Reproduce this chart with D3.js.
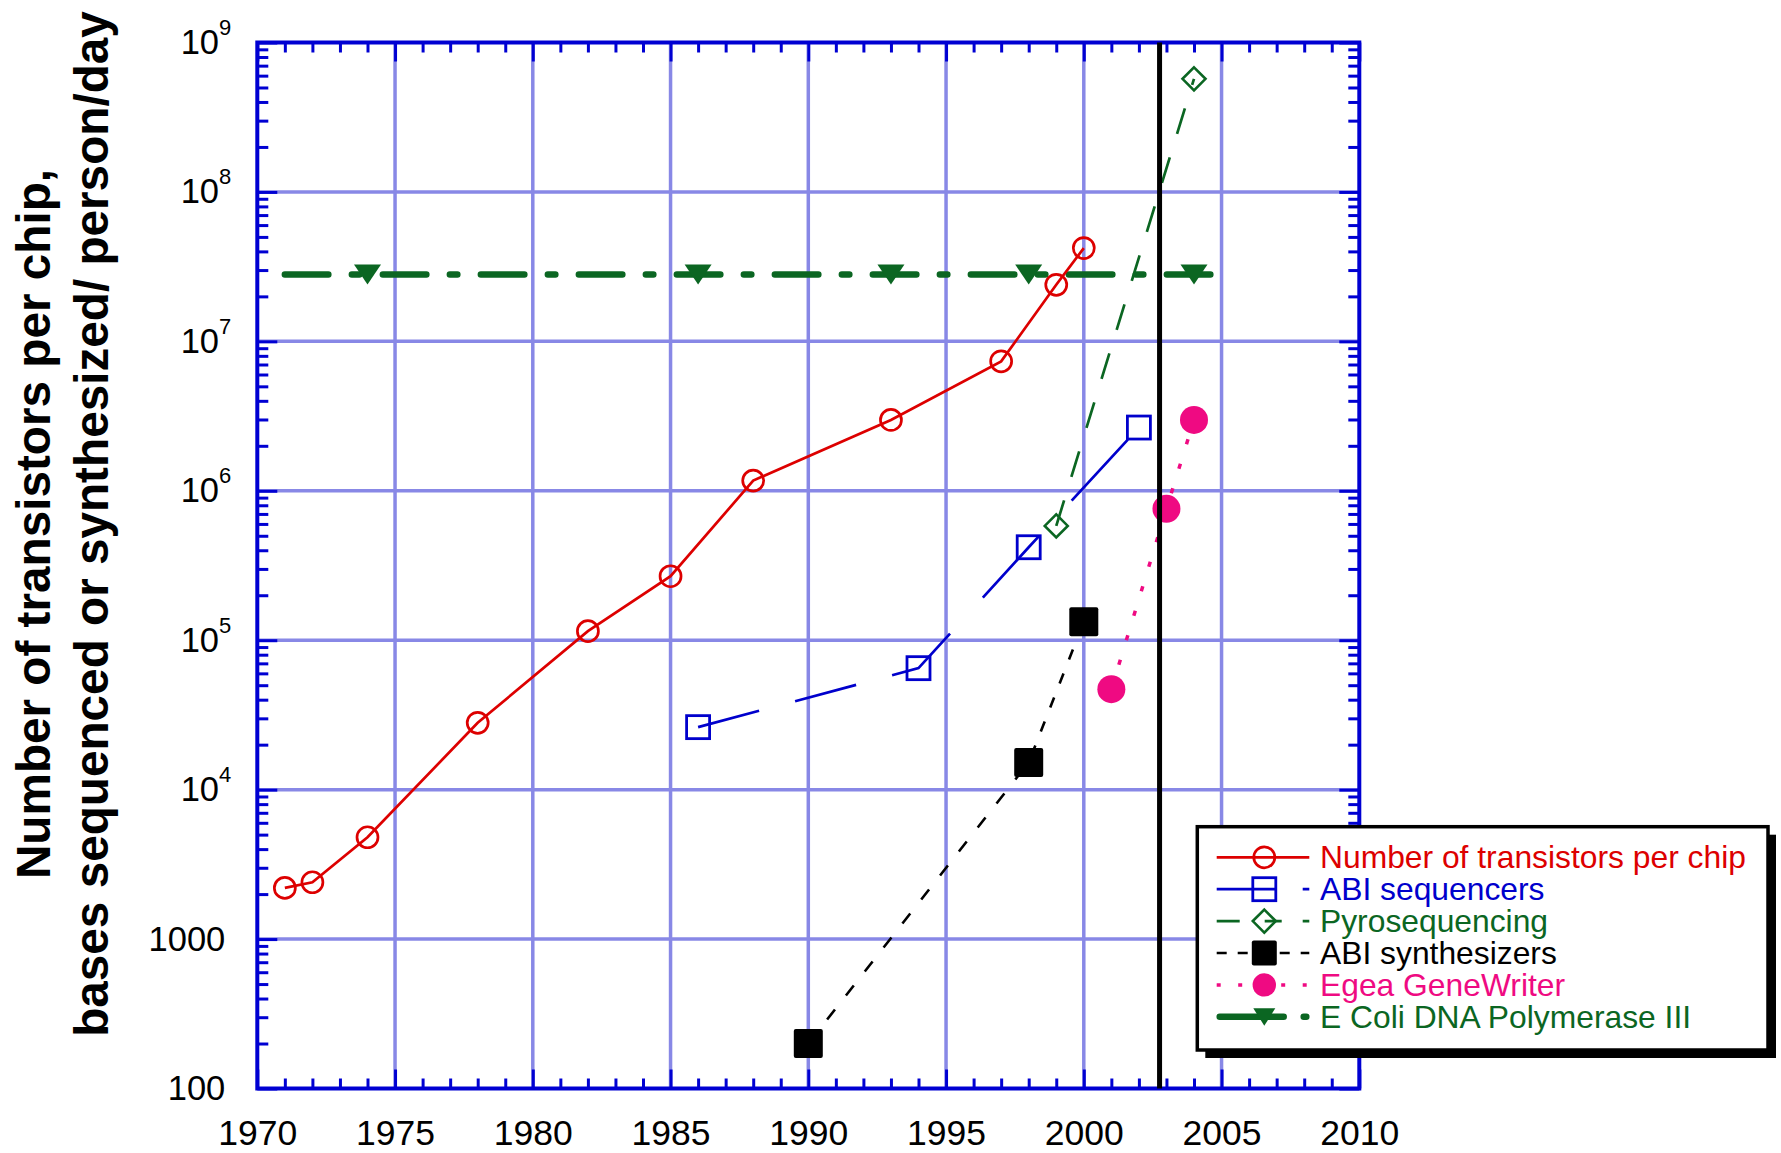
<!DOCTYPE html>
<html>
<head>
<meta charset="utf-8">
<script src="https://cdn.jsdelivr.net/npm/d3@7"></script>
<style>
  body { margin: 0; background: white; }
  text { font-family: "Liberation Sans", Arial, sans-serif; }
</style>
</head>
<body>
<div id="chart"></div>
<script>
// data
const chipYears = [1971, 1972, 1974, 1978, 1982, 1985, 1988, 1993, 1997, 1999, 2000];
const chipTransistors = [2200, 2400, 4800, 28000, 115000, 268000, 1170000, 2980000, 7350000, 23900000, 42100000];

const abiSeqYears = [1986, 1994, 1998, 2002];
const abiSeqBases = [26200, 65000, 419000, 2650000];

const pyroYears = [1999, 2004];
const pyroBases = [582000, 571000000];

const abiSynYears = [1990, 1998, 2000];
const abiSynBases = [200, 15200, 133000];

const egeaYears = [2001, 2003, 2004];
const egeaBases = [47000, 757000, 2980000];

const ecoliLineYears = [1971, 2005];
const ecoliMarkerYears = [1974, 1986, 1993, 1998, 2004];
const ecoliRate = 2.8e7;

const cutoffYear = 2002.75;

const xMajor = [1970, 1975, 1980, 1985, 1990, 1995, 2000, 2005, 2010];
const xMinor = d3.range(1971, 2010).filter(v => v % 5 !== 0);
const yMajor = [1e2, 1e3, 1e4, 1e5, 1e6, 1e7, 1e8, 1e9];
const yMinor = d3.range(2, 9).flatMap(e => d3.range(2, 10).map(m => m * Math.pow(10, e)));

const legendLabels = ["Number of transistors per chip", "ABI sequencers", "Pyrosequencing",
                      "ABI synthesizers", "Egea GeneWriter", "E Coli DNA Polymerase III"];

const width = 1781, height = 1153;
const plot = {left: 257.3, right: 1359.3, top: 42.5, bottom: 1088.5};
const axisBlue = "#0000d2";
const gridBlue = "#8888e6";
const red = "#dd0000", blue = "#0000cc", green = "#0b6622", pink = "#ef0a82";

const svg = d3.select("#chart").append("svg")
  .attr("width", width)
  .attr("height", height)
  .style("background", "white");

const x = d3.scaleLinear().domain([1970, 2010]).range([plot.left, plot.right]);
const y = d3.scaleLog().domain([100, 1e9]).range([plot.bottom, plot.top]);

// dashes measured along the dominant axis, the way the original plot program drew them
function chebDash(pts, pattern) {
  let d = "", k = 0, left = pattern[0], pen = false;
  for (let i = 1; i < pts.length; i++) {
    const [x0, y0] = pts[i - 1], [x1, y1] = pts[i];
    const len = Math.max(Math.abs(x1 - x0), Math.abs(y1 - y0));
    let t = 0;
    while (t < len - 1e-6) {
      const step = Math.min(left, len - t);
      const a = t / len, b = (t + step) / len;
      if (k % 2 === 0) {
        if (!pen) { d += `M${x0 + (x1 - x0) * a},${y0 + (y1 - y0) * a}`; pen = true; }
        d += `L${x0 + (x1 - x0) * b},${y0 + (y1 - y0) * b}`;
      }
      t += step; left -= step;
      if (left <= 1e-6) {
        k = (k + 1) % pattern.length;
        left = pattern[k];
        if (k % 2 === 1) pen = false;
      }
    }
  }
  return d;
}

// grid
svg.append("g").selectAll("line").data(xMajor.slice(1, -1)).join("line")
  .attr("x1", d => x(d)).attr("x2", d => x(d))
  .attr("y1", plot.top).attr("y2", plot.bottom)
  .attr("stroke", gridBlue).attr("stroke-width", 3.5);
svg.append("g").selectAll("line").data(yMajor.slice(1, -1)).join("line")
  .attr("y1", d => y(d)).attr("y2", d => y(d))
  .attr("x1", plot.left).attr("x2", plot.right)
  .attr("stroke", gridBlue).attr("stroke-width", 3.5);

// axes with inward ticks
function tickAxis(axis, pos, values, size) {
  const g = svg.append("g")
    .attr("transform", pos)
    .style("color", axisBlue)
    .call(axis.tickValues(values).tickSize(size).tickFormat(""));
  g.select(".domain").remove();
  g.selectAll(".tick line").attr("stroke-width", 3);
  return g;
}
tickAxis(d3.axisBottom(x), `translate(0,${plot.bottom})`, xMinor, -10);
tickAxis(d3.axisBottom(x), `translate(0,${plot.bottom})`, xMajor, -19);
tickAxis(d3.axisTop(x), `translate(0,${plot.top})`, xMinor, -10);
tickAxis(d3.axisTop(x), `translate(0,${plot.top})`, xMajor, -19);
tickAxis(d3.axisLeft(y), `translate(${plot.left},0)`, yMinor, -11);
tickAxis(d3.axisLeft(y), `translate(${plot.left},0)`, yMajor, -20);
tickAxis(d3.axisRight(y), `translate(${plot.right},0)`, yMinor, -11);
tickAxis(d3.axisRight(y), `translate(${plot.right},0)`, yMajor, -20);

svg.append("rect")
  .attr("x", plot.left).attr("y", plot.top)
  .attr("width", plot.right - plot.left).attr("height", plot.bottom - plot.top)
  .attr("fill", "none").attr("stroke", axisBlue).attr("stroke-width", 4);

// tick labels
const xLab = svg.append("g")
  .attr("transform", `translate(0,${plot.bottom})`)
  .call(d3.axisBottom(x).tickValues(xMajor).tickSize(0).tickPadding(31).tickFormat(d3.format("d")));
xLab.select(".domain").remove();
xLab.selectAll("text").attr("fill", "black").style("font-size", "35.5px")
  .style("font-family", "'Liberation Sans', Arial, sans-serif");

const yLab = svg.append("g")
  .attr("transform", `translate(${plot.left},0)`)
  .call(d3.axisLeft(y).tickValues(yMajor).tickSize(0).tickPadding(26).tickFormat(""));
yLab.select(".domain").remove();
yLab.selectAll("text")
  .attr("fill", "black")
  .style("font-size", "34.5px")
  .style("font-family", "'Liberation Sans', Arial, sans-serif")
  .each(function(d) {
    const t = d3.select(this);
    const e = Math.round(Math.log10(d));
    if (e < 4) {
      t.attr("x", -32).text(String(d));
    } else {
      t.append("tspan").text("10");
      t.append("tspan").attr("dy", -19).style("font-size", "22px").text(e);
    }
  });

// axis title
const titleLines = ["Number of transistors per chip,", "bases sequenced or synthesized/ person/day"];
svg.append("g").selectAll("text").data(titleLines).join("text")
  .attr("transform", (d, i) => `translate(${[50, 108][i]},524) rotate(-90)`)
  .attr("text-anchor", "middle")
  .style("font-size", "47.7px")
  .style("font-weight", "bold")
  .text(d => d);

const pts = (xs, ys) => xs.map((v, i) => [x(v), y(ys[i])]);
const line = d3.line();

// E. coli polymerase
svg.append("path")
  .attr("d", chebDash(ecoliLineYears.map(v => [x(v), y(ecoliRate)]), [43.5, 23.5, 7.5, 23.5]))
  .attr("fill", "none").attr("stroke", green).attr("stroke-width", 6.5).attr("stroke-linecap", "round");
svg.append("g").selectAll("path").data(ecoliMarkerYears).join("path")
  .attr("transform", d => `translate(${x(d)},${y(ecoliRate)})`)
  .attr("d", "M-13.5,-10L13.5,-10L0,10Z")
  .attr("fill", green);

// transistors per chip
svg.append("path")
  .attr("d", line(pts(chipYears, chipTransistors)))
  .attr("fill", "none").attr("stroke", red).attr("stroke-width", 2.7);
svg.append("g").selectAll("circle").data(chipYears).join("circle")
  .attr("cx", d => x(d)).attr("cy", (d, i) => y(chipTransistors[i]))
  .attr("r", 10.5).attr("fill", "none").attr("stroke", red).attr("stroke-width", 2.7);

// ABI sequencers
svg.append("path")
  .attr("d", chebDash(pts(abiSeqYears, abiSeqBases), [61, 36]))
  .attr("fill", "none").attr("stroke", blue).attr("stroke-width", 2.7);
svg.append("g").selectAll("rect").data(abiSeqYears).join("rect")
  .attr("x", d => x(d) - 11.5).attr("y", (d, i) => y(abiSeqBases[i]) - 11.5)
  .attr("width", 23).attr("height", 23)
  .attr("fill", "none").attr("stroke", blue).attr("stroke-width", 2.8);

// pyrosequencing
svg.append("path")
  .attr("d", chebDash(pts(pyroYears, pyroBases), [25.5, 23.5]))
  .attr("fill", "none").attr("stroke", green).attr("stroke-width", 2.7);
svg.append("g").selectAll("path").data(pyroYears).join("path")
  .attr("transform", (d, i) => `translate(${x(d)},${y(pyroBases[i])})`)
  .attr("d", "M0,-11.5L11.5,0L0,11.5L-11.5,0Z")
  .attr("fill", "none").attr("stroke", green).attr("stroke-width", 2.6);

// ABI synthesizers
svg.append("path")
  .attr("d", chebDash(pts(abiSynYears, abiSynBases), [10, 14]))
  .attr("fill", "none").attr("stroke", "black").attr("stroke-width", 2.6);
svg.append("g").selectAll("rect").data(abiSynYears).join("rect")
  .attr("x", d => x(d) - 14.5).attr("y", (d, i) => y(abiSynBases[i]) - 14.5)
  .attr("width", 29).attr("height", 29).attr("rx", 2)
  .attr("fill", "black");

// Egea GeneWriter
svg.append("path")
  .attr("d", chebDash(pts(egeaYears, egeaBases), [5, 19.5]))
  .attr("fill", "none").attr("stroke", pink).attr("stroke-width", 3.5);
svg.append("g").selectAll("circle").data(egeaYears).join("circle")
  .attr("cx", d => x(d)).attr("cy", (d, i) => y(egeaBases[i]))
  .attr("r", 14).attr("fill", pink);

// vertical marker line
svg.append("line")
  .attr("x1", x(cutoffYear)).attr("x2", x(cutoffYear))
  .attr("y1", plot.top).attr("y2", plot.bottom)
  .attr("stroke", "black").attr("stroke-width", 5);

// legend
const lg = {x: 1197.3, y: 826.7, w: 570.7, h: 223.3, row0: 857.3, step: 31.9, s0: 1216.7, s1: 1309.3, mx: 1264.3, tx: 1320};
svg.append("rect")
  .attr("x", lg.x + 8).attr("y", lg.y + 8).attr("width", lg.w).attr("height", lg.h)
  .attr("fill", "black");
svg.append("rect")
  .attr("x", lg.x).attr("y", lg.y).attr("width", lg.w).attr("height", lg.h)
  .attr("fill", "white").attr("stroke", "black").attr("stroke-width", 3.5);

const legendStyles = [
  {color: red, dash: null, width: 2.7, marker: "circle"},
  {color: blue, dash: "59 27 7", width: 2.7, marker: "square"},
  {color: green, dash: "23 25 17 21 7", width: 2.7, marker: "diamond"},
  {color: "black", dash: "10 11", width: 2.6, marker: "filledSquare"},
  {color: pink, dash: "4 17.5", width: 3.5, marker: "dot"},
  {color: green, dash: "64 20 3", width: 6.5, marker: "triangle", cap: "round"}
];

legendLabels.forEach((label, i) => {
  const st = legendStyles[i];
  const cy = lg.row0 + i * lg.step;
  const round = st.cap === "round";
  svg.append("line")
    .attr("x1", round ? lg.s0 + 3 : lg.s0).attr("x2", round ? lg.s1 - 3 : lg.s1)
    .attr("y1", cy).attr("y2", cy)
    .attr("stroke", st.color).attr("stroke-width", st.width)
    .attr("stroke-dasharray", st.dash)
    .attr("stroke-linecap", round ? "round" : "butt");
  const m = svg.append("g").attr("transform", `translate(${lg.mx},${cy})`);
  if (st.marker === "circle") {
    m.append("circle").attr("r", 10.5).attr("fill", "none").attr("stroke", st.color).attr("stroke-width", 2.7);
  } else if (st.marker === "square") {
    m.append("rect").attr("x", -11.5).attr("y", -11.5).attr("width", 23).attr("height", 23)
      .attr("fill", "none").attr("stroke", st.color).attr("stroke-width", 2.8);
  } else if (st.marker === "diamond") {
    m.append("path").attr("d", "M0,-11.5L11.5,0L0,11.5L-11.5,0Z")
      .attr("fill", "none").attr("stroke", st.color).attr("stroke-width", 2.6);
  } else if (st.marker === "filledSquare") {
    m.append("rect").attr("x", -12.5).attr("y", -12.5).attr("width", 25).attr("height", 25)
      .attr("rx", 2).attr("fill", st.color);
  } else if (st.marker === "dot") {
    m.append("circle").attr("r", 11.7).attr("fill", st.color);
  } else {
    m.append("path").attr("d", "M-11,-8.5L11,-8.5L0,9Z").attr("fill", st.color);
  }
  svg.append("text")
    .attr("x", lg.tx).attr("y", cy + 11)
    .attr("fill", st.color)
    .style("font-size", "31.8px")
    .text(label);
});
</script>
</body>
</html>
